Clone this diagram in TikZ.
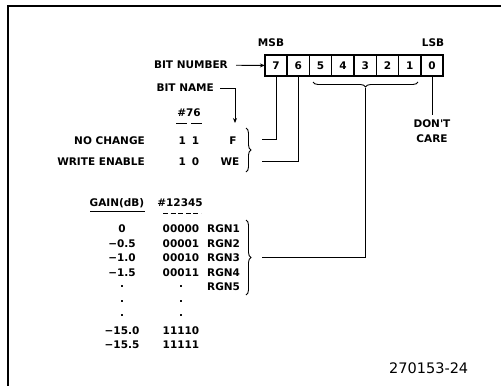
\documentclass[tikz,border=0pt]{standalone}
\usepackage{fontspec}
\newfontfamily\letterfont{DejaVu Sans}
\usepackage{tikz}
\usetikzlibrary{positioning, arrows.meta, decorations.pathreplacing, calc}

\begin{document}
\begin{tikzpicture}[
    x=1pt, y=-1pt,
    lbl/.style={font=\letterfont\bfseries\fontsize{10.5}{15}\selectfont, inner sep=0pt},
    bitcell/.style={
        rectangle, draw, line width=1.4pt, outer sep=0pt,
        minimum width=22.3pt, minimum height=21pt, inner sep=0pt,
        font=\letterfont\bfseries\fontsize{10.5}{12}\selectfont
    },
    link/.style={line width=0.9pt},
    arrow/.style={link, -{Stealth[length=5pt, width=4pt]}},
    curly/.style={decorate, decoration={brace, amplitude=5pt}, line width=0.9pt}
]
\useasboundingbox (0,0) rectangle (501,386);

% frame
\draw[line width=1.3pt] (501,6) -- (8,6) -- (8,386);

% register
\node[bitcell] (b7) at (276,65.5) {7};
\node[bitcell, right=0pt of b7] (b6) {6};
\node[bitcell, right=0pt of b6] (b5) {5};
\node[bitcell, right=0pt of b5] (b4) {4};
\node[bitcell, right=0pt of b4] (b3) {3};
\node[bitcell, right=0pt of b3] (b2) {2};
\node[bitcell, right=0pt of b2] (b1) {1};
\node[bitcell, right=0pt of b1] (b0) {0};
\draw[line width=2.2pt] (b7.north west) rectangle (b0.south east);

\node[lbl] (msb) at (271,43) {MSB};
\node[lbl] (lsb) at (433,43) {LSB};

\node[lbl, anchor=east] (bitnum) at (228,65) {BIT NUMBER};
\node[lbl, anchor=east] (bitname) at (214,88) {BIT NAME};
\coordinate (nametip) at (235,123);
\draw[arrow, shorten <=8pt] (bitnum) -- (b7);
\draw[arrow, shorten <=6pt] (bitname.east) -| (nametip);

% bits 7 and 6
\node[lbl] (hdr76) at (189,113) {\#76};
\draw[link] (176,123) -- (187,123);
\draw[link] (191,123) -- (202,123);
\node[lbl, anchor=east] (nochg) at (145,141) {NO CHANGE};
\node[lbl, anchor=east] (wren) at (145,162) {WRITE ENABLE};
\node[lbl] (nochgv) at (189,141) {1\hspace{6pt}1};
\node[lbl] (wrenv) at (189,162) {1\hspace{6pt}0};
\node[lbl] (fname) at (233,141) {F};
\node[lbl] (wename) at (230,162) {WE};
\draw[curly] (246,128) -- (246,172);
\coordinate (fstart) at (262,139);
\coordinate (westart) at (262,161);
\draw[link] (fstart) -| (b7.south);
\draw[link] (westart) -| (b6.south);

% bit 0
\node[lbl, align=center, anchor=north] (dontcare) at (432,120) {DON'T\\CARE};
\draw[link, shorten >=5pt] (b0.south) -- (b0.south |- dontcare.north);

% bits 5..1
\draw[curly] (418,82) -- (313,82);
\coordinate (gaintip) at (365,88);
\coordinate (rgnstart) at (262,257.5);
\draw[link] (gaintip) |- (rgnstart);

% gain table
\node[lbl] (gainhdr) at (117,203) {GAIN(dB)};
\draw[link] (90,211) -- (145,211);
\node[lbl] (codehdr) at (180,203) {\#12345};
\draw[link, dash pattern=on 5pt off 2.6pt] (163,213) -- (201,213);

\node[lbl] (g1) at (122,229) {0};
\node[lbl] (g2) at (122,243.5) {−0.5};
\node[lbl] (g3) at (122,258) {−1.0};
\node[lbl] (g4) at (122,272.5) {−1.5};
\node[lbl] (g5) at (122,287) {.};
\node[lbl] (g6) at (122,301.5) {.};
\node[lbl] (g7) at (122,316) {.};
\node[lbl] (g8) at (122,330.5) {−15.0};
\node[lbl] (g9) at (122,345) {−15.5};

\node[lbl] (c1) at (181,229) {00000};
\node[lbl] (c2) at (181,243.5) {00001};
\node[lbl] (c3) at (181,258) {00010};
\node[lbl] (c4) at (181,272.5) {00011};
\node[lbl] (c5) at (181,287) {.};
\node[lbl] (c6) at (181,301.5) {.};
\node[lbl] (c7) at (181,316) {.};
\node[lbl] (c8) at (181,330.5) {11110};
\node[lbl] (c9) at (181,345) {11111};

\node[lbl, anchor=west] (r1) at (207,229) {RGN1};
\node[lbl, anchor=west] (r2) at (207,243.5) {RGN2};
\node[lbl, anchor=west] (r3) at (207,258) {RGN3};
\node[lbl, anchor=west] (r4) at (207,272.5) {RGN4};
\node[lbl, anchor=west] (r5) at (207,287) {RGN5};
\draw[curly] (246,220) -- (246,295);

\node[font=\letterfont\fontsize{14.5}{16}\selectfont, inner sep=0pt, anchor=west] (fignum) at (389,368) {270153-24};

\end{tikzpicture}
\end{document}
